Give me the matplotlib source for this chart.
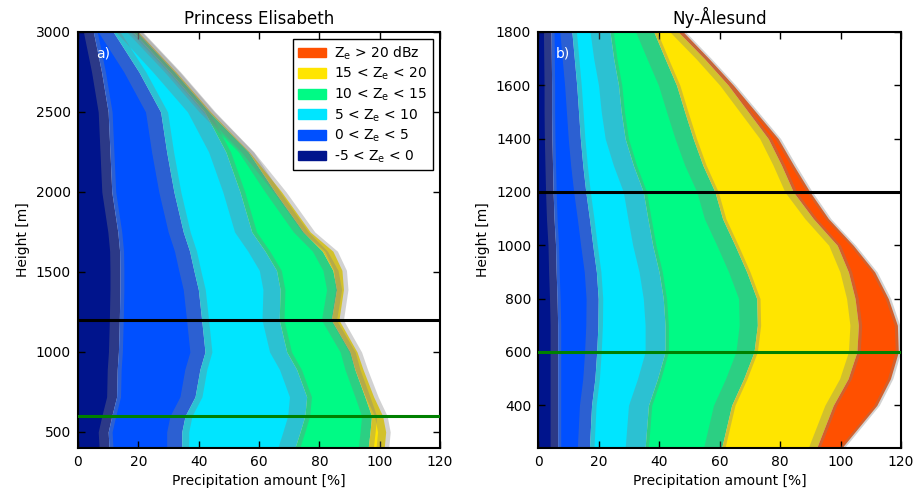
import matplotlib
matplotlib.use("Agg")
import matplotlib.pyplot as plt
from matplotlib.patches import Patch

plt.rcParams['font.family'] = ['DejaVu Sans']
plt.rcParams['mathtext.fontset'] = 'dejavusans'

# ---------------- data ----------------
classes = [r'-5 < Z$_{\rm e}$ < 0', r'0 < Z$_{\rm e}$ < 5', r'5 < Z$_{\rm e}$ < 10',
           r'10 < Z$_{\rm e}$ < 15', r'15 < Z$_{\rm e}$ < 20', r'Z$_{\rm e}$ > 20 dBz']
colors = ['#00148C', '#0050FF', '#00E5FF', '#00FA85', '#FFE500', '#FF5000']

# Princess Elisabeth: cumulative precipitation amount [%] per reflectivity class
h_pe = [400, 500, 600, 720, 890, 1000, 1200, 1390, 1510, 1630, 1750, 2000, 2250, 2500, 2750, 3000]
pe_c1 = [10.3, 10.0, 11.2, 12.8, 13.0, 13.4, 13.7, 13.9, 13.9, 13.8, 13.2, 11.2, 10.6, 10.0, 7.8, 5.1]
pe_c2 = [34.4, 34.4, 35.5, 38.8, 40.4, 42.1, 41.0, 39.9, 38.4, 37.0, 34.9, 31.8, 29.4, 27.4, 20.2, 11.7]
pe_c3 = [71.9, 73.6, 75.2, 75.8, 72.5, 69.2, 66.7, 67.0, 65.8, 62.0, 57.6, 53.7, 49.0, 42.0, 30.5, 18.3]
pe_c4 = [96.2, 96.8, 97.3, 95.1, 91.8, 90.2, 84.0, 85.7, 84.5, 81.0, 74.7, 65.3, 56.5, 43.5, 32.0, 19.5]
pe_c5 = [101.5, 102.0, 101.0, 98.0, 94.5, 92.5, 86.5, 88.0, 87.5, 84.5, 77.0, 67.5, 56.8, 44.0, 32.5, 20.0]
pe_c6 = pe_c5
pe_unc = [(3.3, 1.3), (5.0, 2.3), (5.7, 1.6), (3.3, 1.7), (0.0, 0.0), (2.7, 1.5)]

# Ny-Alesund
h_ny = [240, 400, 500, 600, 700, 800, 900, 1000, 1100, 1200, 1300, 1400, 1500, 1600, 1700, 1800]
ny_c1 = [6.5, 6.5, 6.5, 6.5, 6.5, 6.3, 6.0, 5.8, 5.3, 5.0, 4.8, 4.6, 4.5, 4.5, 4.4, 4.3]
ny_c2 = [17.0, 17.7, 18.8, 19.4, 19.8, 19.9, 19.3, 18.1, 17.0, 15.8, 14.8, 14.0, 13.4, 12.8, 12.0, 11.2]
ny_c3 = [35.4, 36.5, 39.5, 42.0, 42.0, 41.4, 40.0, 37.9, 36.3, 34.8, 31.5, 28.8, 27.5, 26.6, 25.0, 23.8]
ny_c4 = [60.7, 64.0, 68.0, 71.4, 72.5, 72.3, 69.0, 65.1, 61.0, 58.5, 54.5, 51.3, 48.5, 45.8, 42.0, 38.3]
ny_c5 = [92.1, 97.6, 102.5, 105.4, 105.9, 104.8, 102.6, 98.9, 91.0, 84.4, 80.5, 76.1, 69.5, 62.9, 55.0, 46.4]
ny_c6 = [100.4, 112.0, 116.5, 119.1, 118.8, 115.8, 111.3, 104.2, 96.0, 89.9, 84.5, 79.4, 72.0, 64.6, 56.5, 48.0]
ny_unc = [(2.5, 1.0), (4.0, 1.5), (6.6, 1.1), (6.0, 1.1), (2.8, 1.1), (1.0, 0.8)]

titles = ['Princess Elisabeth', 'Ny-\u00c5lesund']
panel_labels = ['a)', 'b)']
ref_heights = [1200, 600]
ref_colors = ['black', '#008000']

# ---------------- plot ----------------
fig = plt.figure(figsize=(9.23, 4.91), dpi=100)
ax1 = fig.add_axes([0.0845, 0.0876, 0.3922, 0.8473])
ax2 = fig.add_axes([0.5829, 0.0876, 0.3933, 0.8473])

panels = [
    (ax1, h_pe, [pe_c1, pe_c2, pe_c3, pe_c4, pe_c5, pe_c6], pe_unc, (400, 3000), range(500, 3001, 500)),
    (ax2, h_ny, [ny_c1, ny_c2, ny_c3, ny_c4, ny_c5, ny_c6], ny_unc, (240, 1800), range(400, 1801, 200)),
]

for i, (ax, h, cums, unc, ylim, yt) in enumerate(panels):
    prev = [0.0] * len(h)
    for cum, col in zip(cums, colors):
        ax.fill_betweenx(h, prev, cum, color=col, lw=0, zorder=1)
        prev = cum
    for cum, (dl, dr) in zip(cums, unc):
        if dl == 0 and dr == 0:
            continue
        lo = [v - dl for v in cum]
        hi = [v + dr for v in cum]
        ax.fill_betweenx(h, lo, hi, color='#808080', alpha=0.35, lw=0, zorder=2)
    for rh, rc in zip(ref_heights, ref_colors):
        ax.axhline(rh, color=rc, lw=2.2, zorder=3)
    ax.set_xlim(0, 120)
    ax.set_ylim(*ylim)
    ax.set_xticks(range(0, 121, 20))
    ax.set_yticks(list(yt))
    ax.tick_params(direction='in', top=True, right=True, length=5, width=1, labelsize=10, pad=5)
    for s in ax.spines.values():
        s.set_linewidth(1.5)
    ax.set_xlabel('Precipitation amount [%]', fontsize=10)
    ax.set_ylabel('Height [m]', fontsize=10)
    ax.set_title(titles[i], fontsize=12)
    ax.text(0.05, 0.965, panel_labels[i], transform=ax.transAxes, color='white',
            fontsize=10, va='top', ha='left', zorder=4)

handles = [Patch(facecolor=c, edgecolor=c) for c in colors][::-1]
leg = ax1.legend(handles, classes[::-1], loc='upper right', fontsize=10, fancybox=False,
                 framealpha=1, edgecolor='black', handlelength=2.0, handleheight=0.7,
                 labelspacing=0.3, borderaxespad=0.5, handletextpad=0.6, borderpad=0.4)
leg.get_frame().set_linewidth(1.0)
leg.set_zorder(5)

fig.savefig('out.png', dpi=100, facecolor='white')
